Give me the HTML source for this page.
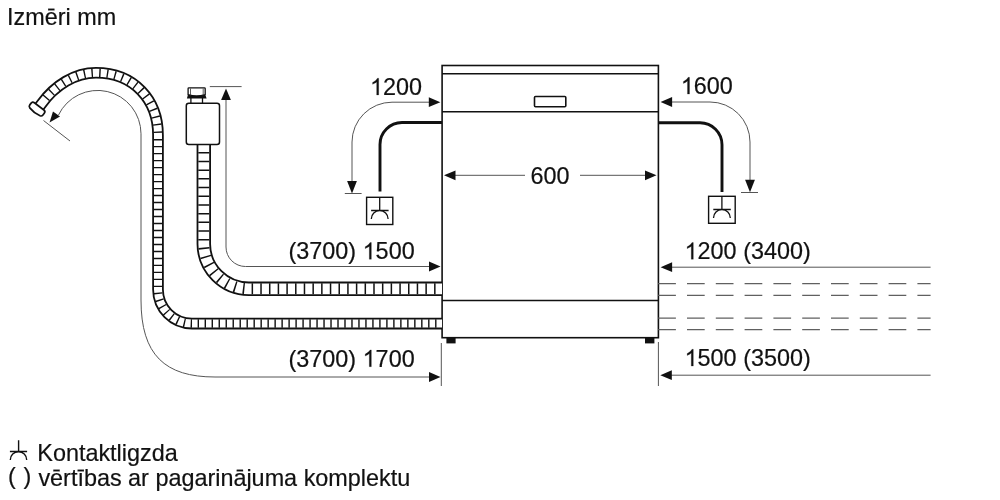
<!DOCTYPE html>
<html><head><meta charset="utf-8">
<style>
html,body{margin:0;padding:0;background:#fff;width:1000px;height:500px;overflow:hidden}
svg{display:block;will-change:transform}
text{font-family:"Liberation Sans",sans-serif;font-size:23.4px;fill:#111;stroke:#111;stroke-width:0.2}
.one{fill:#111;stroke:#111;stroke-width:17.4}
.b{fill:none;stroke:#111;stroke-width:1.6}
.t{fill:none;stroke:#555;stroke-width:1}
.ah{fill:#111;stroke:none}
</style></head><body>
<svg width="1000" height="500" viewBox="0 0 1000 500">
<text x="7.1" y="25.2">Izmēri mm</text>

<!-- dishwasher -->
<rect class="b" x="442.1" y="65.5" width="216.3" height="272.2"/>
<line class="b" x1="442" y1="73.7" x2="659" y2="73.7"/>
<line class="b" x1="442" y1="111.7" x2="658" y2="111.7"/>
<line class="b" x1="442" y1="300.5" x2="658" y2="300.5"/>
<rect class="b" x="534.5" y="96.5" width="31.3" height="10.2" rx="1" style="stroke-width:1.6"/>
<rect x="446.4" y="338" width="9.2" height="5.4" fill="#111"/>
<rect x="645" y="338" width="9.4" height="5.4" fill="#111"/>

<!-- extension lines -->
<line class="t" x1="441.3" y1="343" x2="441.3" y2="386"/>
<line class="t" x1="658.4" y1="342" x2="658.4" y2="386"/>

<!-- 600 -->
<line class="t" x1="452" y1="175.3" x2="525" y2="175.3"/>
<line class="t" x1="580" y1="175.3" x2="648" y2="175.3"/>
<path class="ah" d="M444.00 175.30 L455.50 170.40 L455.50 180.20 Z"/>
<path class="ah" d="M656.50 175.30 L645.00 170.40 L645.00 180.20 Z"/>
<text x="530.50" y="184.00">600</text>

<!-- left top dimension 1200 -->
<text x="370.00" y="95.00"> 200</text><path class="one" transform="translate(370.00,95.00) scale(0.011426,-0.011426)" d="M763 0H583V1147Q518 1085 413 1023Q308 961 224 930V1104Q375 1175 488 1276Q601 1377 648 1472H763Z"/>
<path class="t" d="M352 183 L352 142 A40 40 0 0 1 392 102.2 L430 102.2"/>
<path class="ah" d="M440.30 102.20 L428.80 97.30 L428.80 107.10 Z"/>
<path class="ah" d="M352.00 193.50 L347.10 181.00 L356.90 181.00 Z"/>
<line class="t" x1="344.8" y1="193.5" x2="361.6" y2="193.5"/>
<path class="b" style="stroke-width:2.9" d="M380 191.5 L380 144.5 A22 22 0 0 1 402 122.5 L442 122.5"/>
<rect class="b" x="366.6" y="197.3" width="26.2" height="27.2" style="stroke-width:1.4"/>
<path class="b" style="stroke-width:1.3" d="M379.7 197.5 L379.7 210.5 M371.1 210.5 L388.6 210.5 M371.3 219 A8.4 8.4 0 0 1 388.1 219"/>

<!-- right top dimension 1600 -->
<text x="680.80" y="94.10"> 600</text><path class="one" transform="translate(680.80,94.10) scale(0.011426,-0.011426)" d="M763 0H583V1147Q518 1085 413 1023Q308 961 224 930V1104Q375 1175 488 1276Q601 1377 648 1472H763Z"/>
<path class="t" d="M672 102 L710 102 A40 40 0 0 1 750 142 L750 183"/>
<path class="ah" d="M660.60 102.00 L672.10 97.10 L672.10 106.90 Z"/>
<path class="ah" d="M750.00 192.30 L745.10 179.80 L754.90 179.80 Z"/>
<line class="t" x1="741" y1="192.5" x2="758" y2="192.5"/>
<path class="b" style="stroke-width:2.9" d="M658 122.8 L700 122.8 A22 22 0 0 1 722 144.8 L722 192"/>
<rect class="b" x="708.6" y="196.3" width="26.6" height="27" style="stroke-width:1.4"/>
<path class="b" style="stroke-width:1.3" d="M721.9 196.5 L721.9 209.5 M713.3 209.5 L730.8 209.5 M713.5 218 A8.4 8.4 0 0 1 730.3 218"/>

<!-- right long dims -->
<text x="684.60" y="259.30"> 200 (3400)</text><path class="one" transform="translate(684.60,259.30) scale(0.011426,-0.011426)" d="M763 0H583V1147Q518 1085 413 1023Q308 961 224 930V1104Q375 1175 488 1276Q601 1377 648 1472H763Z"/>
<line class="t" x1="671" y1="267.2" x2="930.6" y2="267.2"/>
<path class="ah" d="M660.60 267.20 L672.10 262.30 L672.10 272.10 Z"/>
<g class="t" style="stroke-dasharray:17.7 11.1;stroke:#606060;stroke-width:1.25">
<line x1="658.2" y1="283.5" x2="930.6" y2="283.5"/>
<line x1="658.2" y1="295.3" x2="930.6" y2="295.3"/>
<line x1="658.2" y1="318.2" x2="930.6" y2="318.2"/>
<line x1="658.2" y1="329.5" x2="930.6" y2="329.5"/>
</g>
<text x="684.60" y="366.10"> 500 (3500)</text><path class="one" transform="translate(684.60,366.10) scale(0.011426,-0.011426)" d="M763 0H583V1147Q518 1085 413 1023Q308 961 224 930V1104Q375 1175 488 1276Q601 1377 648 1472H763Z"/>
<line class="t" x1="671" y1="375.2" x2="930.6" y2="375.2"/>
<path class="ah" d="M660.30 375.20 L671.80 370.30 L671.80 380.10 Z"/>

<!-- left long dims -->
<text x="288.50" y="259.30">(3700)  500</text><path class="one" transform="translate(362.64,259.30) scale(0.011426,-0.011426)" d="M763 0H583V1147Q518 1085 413 1023Q308 961 224 930V1104Q375 1175 488 1276Q601 1377 648 1472H763Z"/>
<path class="t" d="M226 98 L226 247 A19.5 19.5 0 0 0 245.5 266.5 L430 266.5"/>
<path class="ah" d="M226.00 88.40 L221.10 99.90 L230.90 99.90 Z"/>
<line class="t" x1="209.8" y1="86.6" x2="241.6" y2="86.6"/>
<path class="ah" d="M440.50 266.50 L429.00 261.60 L429.00 271.40 Z"/>

<text x="288.50" y="366.70">(3700)  700</text><path class="one" transform="translate(362.64,366.70) scale(0.011426,-0.011426)" d="M763 0H583V1147Q518 1085 413 1023Q308 961 224 930V1104Q375 1175 488 1276Q601 1377 648 1472H763Z"/>
<path class="t" d="M58.5 115 A43.4 43.4 0 0 1 141 133.8 L141 300 C 141 355, 165 377, 215 377 L430 377"/>
<path class="ah" d="M49.5 122.5 L53 111.5 L60 116.5 Z"/>
<line class="t" x1="43.5" y1="120.5" x2="70" y2="141"/>
<path class="ah" d="M440.50 377.00 L429.00 372.10 L429.00 381.90 Z"/>

<!-- upper hose -->
<g fill="none">
<path stroke="#111" stroke-width="14.4" d="M203.8 144 L203.8 244 A45 45 0 0 0 248.8 288.8 L442 288.8"/>
<path stroke="#fff" stroke-width="10.8" d="M203.8 144 L203.8 244 A45 45 0 0 0 248.8 288.8 L442 288.8"/>
<path stroke="#111" stroke-width="11" stroke-dasharray="0 8.05 1.5 7.19 1.5 7.19 1.5 7.19 1.5 7.19 1.5 7.19 1.5 7.19 1.5 7.19 1.5 7.19 1.5 7.19 1.5 7.19 1.5 7.19 1.5 7.19 1.5 7.19 1.5 7.19 1.5 7.19 1.5 7.19 1.5 7.19 1.5 7.19 1.5 7.19 1.5 7.19 1.5 7.19 1.5 7.19 1.5 7.19 1.5 7.19 1.5 7.19 1.5 7.19 1.5 7.19 1.5 7.19 1.5 7.19 1.5 7.19 1.5 7.19 1.5 7.19 1.5 7.19 1.5 7.19 1.5 7.19 1.5 7.19 1.5 7.19 1.5 7.19 1.5 7.19 1.5 7.19 1.5 7.19 1.5 7.19" d="M203.8 144 L203.8 244 A45 45 0 0 0 248.8 288.8 L442 288.8"/>
</g>
<!-- connector -->
<rect x="186.3" y="103.3" width="33.2" height="41.1" rx="2.5" fill="#fff" stroke="#111" stroke-width="1.5"/>
<path d="M190.9 98 L190.9 103.3 M202.5 98 L202.5 103.3" stroke="#111" stroke-width="1.3"/>
<path d="M188 94.4 Q196.6 97.6 205.2 94.4 L206.6 98.6 L186.9 98.6 Z" fill="#111"/>
<path d="M188.1 94.6 L188.1 88.6 Q188.1 87.8 188.9 87.8 L204.4 87.8 Q205.2 87.8 205.2 88.6 L205.2 94.6 Q196.6 97.4 188.1 94.6 Z" fill="#fff" stroke="#111" stroke-width="1.3"/>
<path d="M190.5 88.5 L190.5 95.2 M203.2 88.5 L203.2 95.2" stroke="#333" stroke-width="0.8"/>

<!-- long hose -->
<g fill="none">
<path id="lh" stroke="#111" stroke-width="11.6" d="M39.5 106.5 L41 104.5 C 55 85, 75 72.8, 96 72.8 C 134 72.8, 158 100, 158 135 L158 289.6 A34 34 0 0 0 192 323.6 L442 323.6"/>
<path stroke="#fff" stroke-width="8" d="M39.5 106.5 L41 104.5 C 55 85, 75 72.8, 96 72.8 C 134 72.8, 158 100, 158 135 L158 289.6 A34 34 0 0 0 192 323.6 L442 323.6"/>
<path stroke="#111" stroke-width="8.5" stroke-dasharray="0 10.3 1.4 6.25 1.4 6.25 1.4 6.25 1.4 6.25 1.4 6.25 1.4 6.25 1.4 6.25 1.4 6.25 1.4 6.25 1.4 6.25 1.4 6.25 1.4 6.25 1.4 6.25 1.4 6.25 1.4 6.25 1.4 6.25 1.4 6.25 1.4 6.25 1.4 6.25 1.4 6.25 1.4 6.25 1.4 6.25 1.4 6.25 1.4 6.25" d="M39.5 106.5 L41 104.5 C 55 85, 75 72.8, 96 72.8 C 134 72.8, 158 100, 158 135"/>
<path stroke="#111" stroke-width="8.5" stroke-dasharray="0 3.98 1.4 5.585 1.4 5.585 1.4 5.585 1.4 5.585 1.4 5.585 1.4 5.585 1.4 5.585 1.4 5.585 1.4 5.585 1.4 5.585 1.4 5.585 1.4 5.585 1.4 5.585 1.4 5.585 1.4 5.585 1.4 5.585 1.4 5.585 1.4 5.585 1.4 5.585 1.4 5.585 1.4 5.585 1.4 5.585 1.4 5.585 1.4 5.585 1.4 5.585 1.4 5.585 1.4 5.585 1.4 5.585 1.4 5.585 1.4 5.585 1.4 5.585 1.4 5.585 1.4 5.585 1.4 5.585 1.4 5.585 1.4 5.585 1.4 5.585 1.4 5.585 1.4 5.585 1.4 5.585 1.4 5.585 1.4 5.585 1.4 5.585 1.4 5.585 1.4 5.585 1.4 5.585 1.4 5.585 1.4 5.585 1.4 5.585 1.4 5.585 1.4 5.585 1.4 5.585 1.4 5.585 1.4 5.585 1.4 5.585 1.4 5.585 1.4 5.585 1.4 5.585 1.4 5.585 1.4 5.585 1.4 5.585 1.4 5.585 1.4 5.585 1.4 5.585 1.4 5.585 1.4 5.585 1.4 5.585 1.4 5.585 1.4 5.585 1.4 5.585" d="M158 135 L158 289.6 A34 34 0 0 0 192 323.6 L442 323.6"/>
</g>
<g transform="translate(37.1,109) rotate(37.6)"><path d="M-6 -3.3 L6 -3.3 Q8.3 -3.3 8.3 -1 L8.3 1.2 Q8.3 3 6.5 3.6 Q0 5.2 -6.5 3.6 Q-8.3 3 -8.3 1.2 L-8.3 -1 Q-8.3 -3.3 -6 -3.3 Z" fill="#fff" stroke="#111" stroke-width="1.7"/></g>

<!-- legend -->
<path class="b" style="stroke-width:1.4" d="M18.6 440.2 L18.6 451.5 M9.9 451.5 L27.1 451.5 M10.3 459.9 A8.2 8.2 0 0 1 26.7 459.9"/>
<text x="37.3" y="461.1">Kontaktligzda</text>
<text x="8.1" y="484.3">(</text><text x="23.5" y="484.3">)</text><text x="38.4" y="486.3">vērtības ar pagarinājuma komplektu</text>
</svg>
</body></html>
